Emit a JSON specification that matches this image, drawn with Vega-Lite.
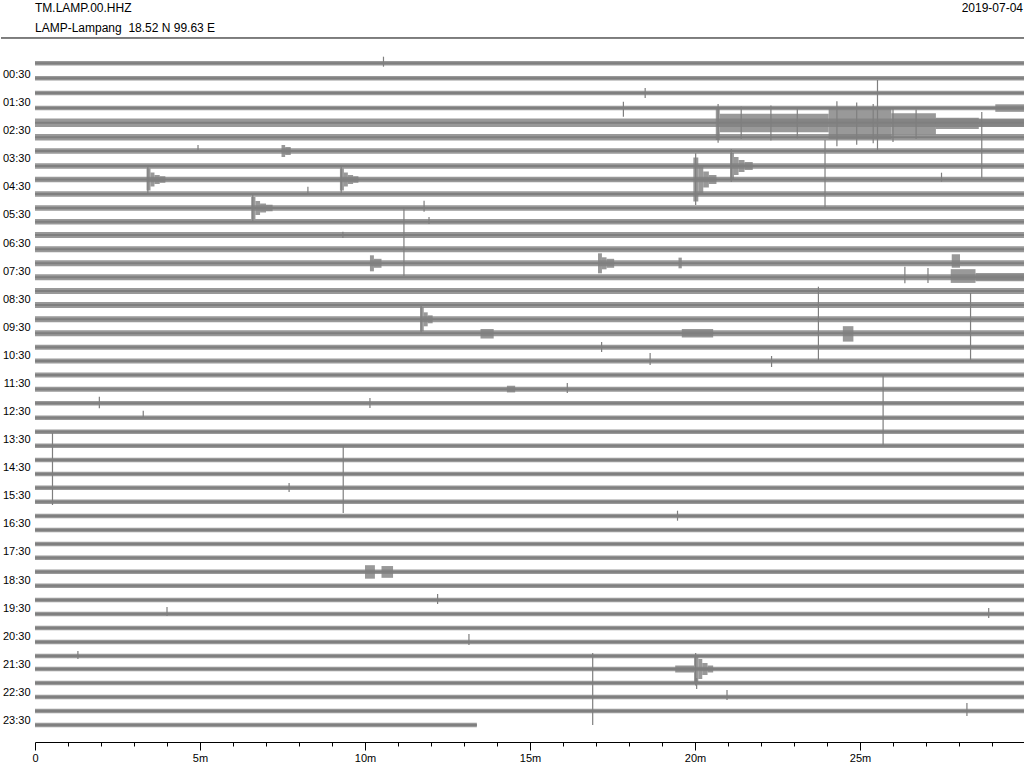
{
  "$schema": "https://vega.github.io/schema/vega-lite/v6.json",
  "width": 990,
  "height": 742,
  "padding": {"left": 0, "top": 0, "right": 0, "bottom": 0},
  "autosize": {"type": "pad"},
  "background": "white",
  "config": {
    "view": {"stroke": null},
    "font": "Liberation Sans",
    "axis": {"labelFont": "Liberation Sans", "labelFontSize": 11, "labelColor": "black", "labelOverlap": false, "grid": false, "title": null, "tickCount": 200},
    "axisX": {"domainColor": "black", "tickColor": "black", "labelPadding": 2, "labelFlush": false},
    "axisY": {"ticks": false, "domain": false, "labelPadding": 5}
  },
  "data": {"values": [{"k": 1}]},
  "datasets": {
    "traces": [
      {"tr":1,"c":0.101,"t0":0,"t1":30,"amp":45},
      {"tr":2,"c":0.635,"t0":0,"t1":30,"amp":45},
      {"tr":3,"c":1.159,"t0":0,"t1":30,"amp":45},
      {"tr":4,"c":1.693,"t0":0,"t1":30,"amp":45},
      {"tr":5,"c":2.216,"t0":0,"t1":30,"amp":85},
      {"tr":6,"c":2.736,"t0":0,"t1":30,"amp":65},
      {"tr":7,"c":3.224,"t0":0,"t1":30,"amp":55},
      {"tr":8,"c":3.758,"t0":0,"t1":30,"amp":55},
      {"tr":9,"c":4.238,"t0":0,"t1":30,"amp":55},
      {"tr":10,"c":4.755,"t0":0,"t1":30,"amp":55},
      {"tr":11,"c":5.253,"t0":0,"t1":30,"amp":55},
      {"tr":12,"c":5.741,"t0":0,"t1":30,"amp":55},
      {"tr":13,"c":6.214,"t0":0,"t1":30,"amp":60},
      {"tr":14,"c":6.723,"t0":0,"t1":30,"amp":60},
      {"tr":15,"c":7.222,"t0":0,"t1":30,"amp":60},
      {"tr":16,"c":7.720,"t0":0,"t1":30,"amp":60},
      {"tr":17,"c":8.208,"t0":0,"t1":30,"amp":60},
      {"tr":18,"c":8.707,"t0":0,"t1":30,"amp":60},
      {"tr":19,"c":9.216,"t0":0,"t1":30,"amp":60},
      {"tr":20,"c":9.714,"t0":0,"t1":30,"amp":60},
      {"tr":21,"c":10.213,"t0":0,"t1":30,"amp":50},
      {"tr":22,"c":10.700,"t0":0,"t1":30,"amp":50},
      {"tr":23,"c":11.199,"t0":0,"t1":30,"amp":50},
      {"tr":24,"c":11.708,"t0":0,"t1":30,"amp":50},
      {"tr":25,"c":12.206,"t0":0,"t1":30,"amp":45},
      {"tr":26,"c":12.719,"t0":0,"t1":30,"amp":45},
      {"tr":27,"c":13.218,"t0":0,"t1":30,"amp":45},
      {"tr":28,"c":13.716,"t0":0,"t1":30,"amp":45},
      {"tr":29,"c":14.225,"t0":0,"t1":30,"amp":45},
      {"tr":30,"c":14.724,"t0":0,"t1":30,"amp":45},
      {"tr":31,"c":15.211,"t0":0,"t1":30,"amp":45},
      {"tr":32,"c":15.710,"t0":0,"t1":30,"amp":45},
      {"tr":33,"c":16.219,"t0":0,"t1":30,"amp":45},
      {"tr":34,"c":16.717,"t0":0,"t1":30,"amp":45},
      {"tr":35,"c":17.216,"t0":0,"t1":30,"amp":45},
      {"tr":36,"c":17.703,"t0":0,"t1":30,"amp":45},
      {"tr":37,"c":18.202,"t0":0,"t1":30,"amp":45},
      {"tr":38,"c":18.704,"t0":0,"t1":30,"amp":45},
      {"tr":39,"c":19.206,"t0":0,"t1":30,"amp":45},
      {"tr":40,"c":19.708,"t0":0,"t1":30,"amp":45},
      {"tr":41,"c":20.207,"t0":0,"t1":30,"amp":45},
      {"tr":42,"c":20.705,"t0":0,"t1":30,"amp":45},
      {"tr":43,"c":21.204,"t0":0,"t1":30,"amp":45},
      {"tr":44,"c":21.666,"t0":0,"t1":30,"amp":45},
      {"tr":45,"c":22.165,"t0":0,"t1":30,"amp":45},
      {"tr":46,"c":22.663,"t0":0,"t1":30,"amp":45},
      {"tr":47,"c":23.161,"t0":0,"t1":30,"amp":45},
      {"tr":48,"c":23.660,"t0":0,"t1":13.39,"amp":45}
    ],
    "spikes": [
      {"t":10.56,"lo":-0.134,"hi":0.222},
      {"t":4.94,"lo":3.010,"hi":3.224},
      {"t":8.27,"lo":4.495,"hi":4.719},
      {"t":11.79,"lo":4.993,"hi":5.385},
      {"t":11.18,"lo":5.217,"hi":7.674},
      {"t":11.94,"lo":5.573,"hi":5.823},
      {"t":25.53,"lo":0.696,"hi":3.188},
      {"t":17.83,"lo":1.468,"hi":2.002},
      {"t":28.69,"lo":1.835,"hi":4.185},
      {"t":23.94,"lo":2.832,"hi":5.217},
      {"t":27.47,"lo":3.996,"hi":4.317},
      {"t":9.33,"lo":6.097,"hi":6.321},
      {"t":26.36,"lo":7.343,"hi":7.934},
      {"t":27.06,"lo":7.389,"hi":7.923},
      {"t":23.74,"lo":8.055,"hi":10.665},
      {"t":28.35,"lo":8.279,"hi":10.665},
      {"t":18.64,"lo":10.416,"hi":10.843},
      {"t":22.32,"lo":10.522,"hi":10.914},
      {"t":25.70,"lo":11.199,"hi":13.691},
      {"t":16.13,"lo":11.484,"hi":11.840},
      {"t":17.17,"lo":10.024,"hi":10.380},
      {"t":1.95,"lo":11.971,"hi":12.385},
      {"t":10.15,"lo":12.018,"hi":12.374},
      {"t":3.28,"lo":12.470,"hi":12.730},
      {"t":0.53,"lo":13.264,"hi":15.827},
      {"t":9.34,"lo":13.691,"hi":16.112},
      {"t":7.70,"lo":15.044,"hi":15.365},
      {"t":19.47,"lo":16.030,"hi":16.386},
      {"t":12.20,"lo":18.996,"hi":19.352},
      {"t":4.00,"lo":19.459,"hi":19.779},
      {"t":28.90,"lo":19.494,"hi":19.851},
      {"t":13.15,"lo":20.420,"hi":20.812},
      {"t":1.30,"lo":21.025,"hi":21.310},
      {"t":16.90,"lo":21.097,"hi":23.660},
      {"t":20.97,"lo":22.414,"hi":22.770},
      {"t":28.24,"lo":22.877,"hi":23.339},
      {"t":20.05,"lo":21.987,"hi":22.378},
      {"t":18.49,"lo":0.981,"hi":1.337},
      {"t":20.70,"lo":1.550,"hi":2.930},
      {"t":21.40,"lo":1.640,"hi":2.800},
      {"t":22.30,"lo":1.600,"hi":2.850},
      {"t":23.10,"lo":1.700,"hi":2.780},
      {"t":24.30,"lo":1.450,"hi":3.050},
      {"t":24.90,"lo":1.500,"hi":3.000},
      {"t":25.40,"lo":1.550,"hi":2.950},
      {"t":26.00,"lo":1.700,"hi":2.900},
      {"t":26.70,"lo":1.750,"hi":2.800},
      {"t":3.42,"lo":3.750,"hi":4.720},
      {"t":9.28,"lo":3.750,"hi":4.720},
      {"t":6.60,"lo":4.750,"hi":5.720},
      {"t":20.02,"lo":3.300,"hi":5.150},
      {"t":21.10,"lo":3.150,"hi":4.330},
      {"t":20.02,"lo":21.100,"hi":22.250},
      {"t":11.70,"lo":8.740,"hi":9.690}
    ],
    "bursts": [
      {"t":3.38,"t2":3.50,"lo":3.846,"hi":4.630},
      {"t":3.50,"t2":3.62,"lo":3.989,"hi":4.487},
      {"t":3.62,"t2":3.78,"lo":4.078,"hi":4.398},
      {"t":3.78,"t2":3.95,"lo":4.121,"hi":4.355},
      {"t":9.24,"t2":9.36,"lo":3.846,"hi":4.630},
      {"t":9.36,"t2":9.48,"lo":3.989,"hi":4.487},
      {"t":9.48,"t2":9.64,"lo":4.078,"hi":4.398},
      {"t":9.64,"t2":9.80,"lo":4.121,"hi":4.355},
      {"t":6.55,"t2":6.68,"lo":4.861,"hi":5.645},
      {"t":6.68,"t2":6.82,"lo":5.004,"hi":5.502},
      {"t":6.82,"t2":7.00,"lo":5.093,"hi":5.413},
      {"t":7.00,"t2":7.20,"lo":5.136,"hi":5.370},
      {"t":7.47,"t2":7.58,"lo":3.010,"hi":3.438},
      {"t":7.58,"t2":7.75,"lo":3.082,"hi":3.366},
      {"t":20.63,"t2":20.75,"lo":1.693,"hi":2.832},
      {"t":20.75,"t2":24.05,"lo":1.900,"hi":2.560},
      {"t":24.05,"t2":25.95,"lo":1.720,"hi":2.800},
      {"t":25.95,"t2":27.30,"lo":1.880,"hi":2.640},
      {"t":27.30,"t2":28.60,"lo":2.040,"hi":2.440},
      {"t":28.60,"t2":30.00,"lo":2.090,"hi":2.360},
      {"t":29.10,"t2":30.00,"lo":1.560,"hi":1.830},
      {"t":19.95,"t2":20.10,"lo":3.455,"hi":5.021},
      {"t":20.10,"t2":20.25,"lo":3.740,"hi":4.736},
      {"t":20.25,"t2":20.42,"lo":3.953,"hi":4.523},
      {"t":20.42,"t2":20.65,"lo":4.078,"hi":4.398},
      {"t":21.06,"t2":21.18,"lo":3.295,"hi":4.221},
      {"t":21.18,"t2":21.32,"lo":3.438,"hi":4.078},
      {"t":21.32,"t2":21.50,"lo":3.544,"hi":3.972},
      {"t":21.50,"t2":21.75,"lo":3.616,"hi":3.900},
      {"t":10.15,"t2":10.27,"lo":6.937,"hi":7.507},
      {"t":10.27,"t2":10.50,"lo":7.062,"hi":7.382},
      {"t":17.06,"t2":17.18,"lo":6.866,"hi":7.578},
      {"t":17.18,"t2":17.32,"lo":7.008,"hi":7.436},
      {"t":17.32,"t2":17.55,"lo":7.062,"hi":7.382},
      {"t":19.50,"t2":19.60,"lo":7.020,"hi":7.400},
      {"t":27.78,"t2":28.03,"lo":6.900,"hi":7.380},
      {"t":27.75,"t2":28.50,"lo":7.430,"hi":7.920},
      {"t":28.50,"t2":30.00,"lo":7.570,"hi":7.860},
      {"t":11.67,"t2":11.78,"lo":8.789,"hi":9.643},
      {"t":11.78,"t2":11.90,"lo":8.967,"hi":9.465},
      {"t":11.90,"t2":12.05,"lo":9.074,"hi":9.358},
      {"t":13.50,"t2":13.90,"lo":9.560,"hi":9.900},
      {"t":19.60,"t2":20.55,"lo":9.560,"hi":9.860},
      {"t":24.48,"t2":24.80,"lo":9.460,"hi":10.010},
      {"t":14.30,"t2":14.55,"lo":11.580,"hi":11.820},
      {"t":10.00,"t2":10.30,"lo":17.970,"hi":18.450},
      {"t":10.50,"t2":10.85,"lo":18.000,"hi":18.420},
      {"t":19.97,"t2":20.10,"lo":21.168,"hi":22.164},
      {"t":20.10,"t2":20.22,"lo":21.310,"hi":22.022},
      {"t":20.22,"t2":20.38,"lo":21.452,"hi":21.880},
      {"t":20.38,"t2":20.55,"lo":21.541,"hi":21.791},
      {"t":19.40,"t2":19.97,"lo":21.541,"hi":21.791}
    ]
  },
  "layer": [
    {
      "data": {"name": "traces"},
      "mark": {"type": "rule", "color": "#7f7f7f", "opacity": 0.8, "strokeCap": "butt"},
      "encoding": {
        "x": {
          "field": "t0", "type": "quantitative",
          "scale": {"domain": [0, 30], "nice": false, "zero": false},
          "axis": {
            "values": [0,1,2,3,4,5,6,7,8,9,10,11,12,13,14,15,16,17,18,19,20,21,22,23,24,25,26,27,28,29],
            "tickCount": 200, "labelOverlap": false, "labelFontSize": 11,
            "tickSize": {"condition": {"test": "datum.value % 5 === 0", "value": 8}, "value": 4},
            "labelExpr": "datum.value % 5 === 0 ? (datum.value === 0 ? '0' : datum.value + 'm') : ''"
          }
        },
        "x2": {"field": "t1"},
        "y": {
          "field": "c", "type": "quantitative",
          "scale": {"domain": [-2.1526, 24.265], "nice": false, "zero": false, "reverse": true},
          "axis": {
            "values": [0.5,1.5,2.5,3.5,4.5,5.5,6.5,7.5,8.5,9.5,10.5,11.5,12.5,13.5,14.5,15.5,16.5,17.5,18.5,19.5,20.5,21.5,22.5,23.5],
            "tickCount": 200, "labelOverlap": false, "labelFontSize": 11,
            "labelExpr": "(datum.value < 10 ? '0' : '') + floor(datum.value) + ':30'"
          }
        },
        "size": {"field": "amp", "type": "quantitative", "scale": {"domain": [0, 100], "range": [0, 10]}, "legend": null}
      }
    },
    {
      "data": {"name": "traces"},
      "mark": {"type": "rule", "color": "#7f7f7f", "strokeWidth": 2, "strokeCap": "butt"},
      "encoding": {
        "x": {"field": "t0", "type": "quantitative"},
        "x2": {"field": "t1"},
        "y": {"field": "c", "type": "quantitative"}
      }
    },
    {
      "data": {"name": "bursts"},
      "mark": {"type": "rect", "color": "#7f7f7f", "opacity": 0.8},
      "encoding": {
        "x": {"field": "t", "type": "quantitative"},
        "x2": {"field": "t2"},
        "y": {"field": "lo", "type": "quantitative"},
        "y2": {"field": "hi"}
      }
    },
    {
      "data": {"name": "spikes"},
      "mark": {"type": "rule", "color": "#7f7f7f", "strokeWidth": 1.2},
      "encoding": {
        "x": {"field": "t", "type": "quantitative"},
        "y": {"field": "lo", "type": "quantitative"},
        "y2": {"field": "hi"}
      }
    },
    {
      "mark": {"type": "rule", "color": "black", "strokeWidth": 1, "clip": false},
      "encoding": {
        "x": {"datum": -1.0303, "type": "quantitative"},
        "x2": {"datum": 30},
        "y": {"datum": -0.7997, "type": "quantitative"}
      }
    },
    {
      "mark": {"type": "text", "align": "left", "baseline": "alphabetic", "fontSize": 12, "color": "black"},
      "encoding": {
        "x": {"datum": 0, "type": "quantitative"},
        "y": {"datum": -1.7076, "type": "quantitative"},
        "text": {"value": "TM.LAMP.00.HHZ"}
      }
    },
    {
      "mark": {"type": "text", "align": "left", "baseline": "alphabetic", "fontSize": 12, "color": "black"},
      "encoding": {
        "x": {"datum": 0, "type": "quantitative"},
        "y": {"datum": -1.031, "type": "quantitative"},
        "text": {"value": "LAMP-Lampang\u00a0 18.52 N 99.63 E"}
      }
    },
    {
      "mark": {"type": "text", "align": "right", "baseline": "alphabetic", "fontSize": 12, "color": "black"},
      "encoding": {
        "x": {"datum": 29.94, "type": "quantitative"},
        "y": {"datum": -1.7076, "type": "quantitative"},
        "text": {"value": "2019-07-04"}
      }
    }
  ]
}
